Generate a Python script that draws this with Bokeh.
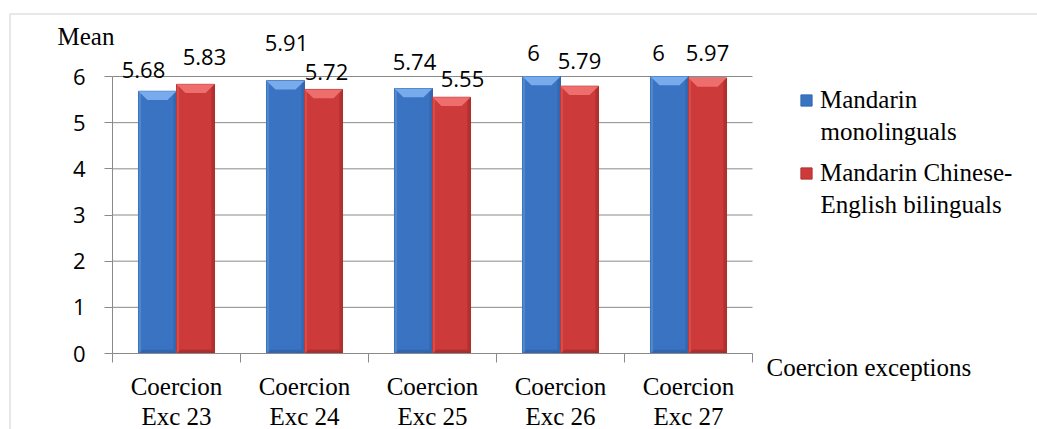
from bokeh.plotting import figure
from bokeh.models import (ColumnDataSource, FixedTicker, LabelSet, Label, Legend,
                          LegendItem, Range1d, BoxAnnotation)
from bokeh.core.properties import value
from bokeh.embed import file_html
from bokeh.resources import INLINE

# ---------------- data ----------------
categories = ["Coercion\nExc 23", "Coercion\nExc 24", "Coercion\nExc 25",
              "Coercion\nExc 26", "Coercion\nExc 27"]
mono = [5.68, 5.91, 5.74, 6, 6]
bili = [5.83, 5.72, 5.55, 5.79, 5.97]
mono_text = ["5.68", "5.91", "5.74", "6", "6"]
bili_text = ["5.83", "5.72", "5.55", "5.79", "5.97"]
series_lines = [["Mandarin", "monolinguals"], ["Mandarin Chinese-", "English bilinguals"]]
y_ticks = [0, 1, 2, 3, 4, 5, 6]
y_title = "Mean"
x_title = "Coercion exceptions"

# label nudges in screen px (as placed in the original)
mono_dx = [-14, 1, 1, -8, -11]
mono_dy = [13, 30, 19, 16, 16]
bili_dx = [9, 3, 11, 0, 0]
bili_dy = [19, 9, 10, 17, 17]

# ---------------- styles ----------------
BLUE, BLUE_LIGHT, BLUE_DARK, BLUE_EDGE = "#3a73c2", "#78abec", "#2c5c9e", "#3169b3"
RED, RED_LIGHT, RED_DARK, RED_EDGE = "#cc3a3a", "#ee6e6e", "#962626", "#b23030"
GRID = "#8a8a8a"
FRAME = "#9a9a9a"
SERIF = "Liberation Serif"
SANS = "Open Sans"

n = len(categories)
ymax = max(y_ticks)
W, H = 1037, 429
PX_X = 128.0          # px per category
PX_Y = 277.0 / ymax   # px per unit
X0_PX, Y0_PX = 112, 353   # where data (0, 0) sits on the canvas

x_range = Range1d(-X0_PX / PX_X, (W - X0_PX) / PX_X)
y_range = Range1d(-(H - Y0_PX) / PX_Y, Y0_PX / PX_Y)

def dx_px(px):   # canvas px -> data x
    return (px - X0_PX) / PX_X
def dy_px(py):   # canvas px -> data y
    return (Y0_PX - py) / PX_Y

bw = 0.297
xm = [i + 0.5 - bw / 2 for i in range(n)]
xb = [i + 0.5 + bw / 2 for i in range(n)]

p = figure(width=W, height=H, x_range=x_range, y_range=y_range,
           output_backend="svg", toolbar_location=None, min_border=0)
p.outline_line_color = None
p.border_fill_color = "white"
p.background_fill_color = "white"
p.grid.grid_line_color = None

# outer chart-area border (only its left and top edges are on the canvas)
p.add_layout(BoxAnnotation(left=dx_px(9.5), top=dy_px(13.5),
                           right=x_range.end + 1, bottom=y_range.start - 1,
                           fill_color=None, fill_alpha=0,
                           line_color=FRAME, line_width=1.6))

# grid lines only across the category span
p.segment(x0=[0] * len(y_ticks), x1=[n] * len(y_ticks), y0=y_ticks, y1=y_ticks,
          line_color=GRID, line_width=1, level="underlay")

# axes (fixed inside the canvas so that outside texts are not clipped)
p.yaxis.fixed_location = 0
p.yaxis.bounds = (0, ymax)
p.yaxis.ticker = FixedTicker(ticks=y_ticks)
p.yaxis.major_tick_out = 8
p.yaxis.major_tick_in = 0
p.yaxis.minor_tick_line_color = None
p.yaxis.axis_line_color = GRID
p.yaxis.major_tick_line_color = GRID
p.yaxis.major_label_text_font = SANS
p.yaxis.major_label_text_font_size = "22px"
p.yaxis.major_label_text_color = "black"
p.yaxis.major_label_standoff = 19

p.xaxis.fixed_location = 0
p.xaxis.bounds = (0, n)
p.xaxis.ticker = FixedTicker(ticks=[i + 0.5 for i in range(n)],
                             minor_ticks=list(range(n + 1)))
p.xaxis.major_tick_out = 0
p.xaxis.major_tick_in = 0
p.xaxis.minor_tick_out = 9
p.xaxis.minor_tick_in = 0
p.xaxis.minor_tick_line_color = GRID
p.xaxis.axis_line_color = GRID
p.xaxis.major_label_overrides = {i + 0.5: categories[i] for i in range(n)}
p.xaxis.major_label_text_font = SERIF
p.xaxis.major_label_text_font_size = "25px"
p.xaxis.major_label_text_color = "black"
p.xaxis.major_label_text_line_height = 1.12
p.xaxis.major_label_standoff = 10

# bars with a bevel look
ph = 0.19   # bevel height (data units)
pw = 0.07   # bevel inset (data units)
def draw_bars(xs, vals, body, light, dark, edge):
    r = p.vbar(x=xs, top=vals, bottom=0, width=bw, fill_color=body,
               line_color=edge, line_width=1)
    p.vbar(x=[x + bw / 2 - 0.012 for x in xs], top=vals, bottom=0, width=0.024,
           fill_color=dark, fill_alpha=0.45, line_color=None)
    p.vbar(x=[x - bw / 2 + 0.01 for x in xs], top=vals, bottom=0, width=0.02,
           fill_color=light, fill_alpha=0.35, line_color=None)
    tx = [[x - bw / 2, x + bw / 2, x + bw / 2 - pw, x - bw / 2 + pw] for x in xs]
    ty = [[v, v, v - ph, v - ph] for v in vals]
    p.patches(tx, ty, fill_color=light, line_color=None)
    bx = [[x - bw / 2, x + bw / 2, x + bw / 2 - 0.03, x - bw / 2 + 0.03] for x in xs]
    by = [[0, 0, 0.08, 0.08] for v in vals]
    p.patches(bx, by, fill_color=dark, fill_alpha=0.6, line_color=None)
    return r

r_mono = draw_bars(xm, mono, BLUE, BLUE_LIGHT, BLUE_DARK, BLUE_EDGE)
r_bili = draw_bars(xb, bili, RED, RED_LIGHT, RED_DARK, RED_EDGE)

# value labels
src_m = ColumnDataSource(dict(x=xm, y=mono, t=mono_text, dx=mono_dx, dy=mono_dy))
src_b = ColumnDataSource(dict(x=xb, y=bili, t=bili_text, dx=bili_dx, dy=bili_dy))
for s in (src_m, src_b):
    p.add_layout(LabelSet(x="x", y="y", text="t", x_offset="dx", y_offset="dy",
                          source=s, text_align="center", text_baseline="alphabetic",
                          text_font=value(SANS), text_font_size=value("22px"),
                          text_color="black"))

# titles
def serif_label(text, px, py):
    p.add_layout(Label(x=dx_px(px), y=dy_px(py), text=text, text_font=SERIF,
                       text_font_size="25px", text_color="black",
                       text_baseline="alphabetic", text_align="left"))

serif_label(y_title, 57, 36)
serif_label(x_title, 766, 367)

# legend (first line in the legend entry, second line wrapped below it)
legend = Legend(items=[LegendItem(label=series_lines[0][0], renderers=[r_mono]),
                       LegendItem(label=series_lines[1][0], renderers=[r_bili])],
                location=(799, H - 188), border_line_color=None,
                background_fill_alpha=0, padding=0, margin=0, spacing=43,
                glyph_width=14, glyph_height=14, label_standoff=7, label_height=30,
                label_text_font=SERIF, label_text_font_size="25px",
                label_text_color="black")
p.add_layout(legend, "center")
serif_label(series_lines[0][1], 820, 131)
serif_label(series_lines[1][1], 820, 204)

open("out.html", "w").write(file_html(p, INLINE))
